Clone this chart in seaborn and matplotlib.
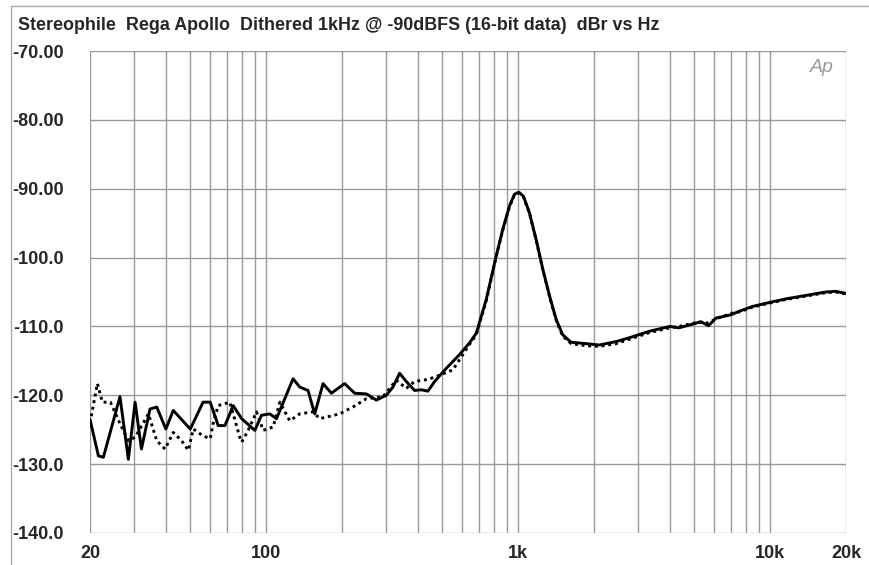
import matplotlib
matplotlib.use("Agg")
import matplotlib.pyplot as plt
import seaborn as sns
import pandas as pd
import numpy as np
from matplotlib.ticker import FixedLocator, NullFormatter

title = "Stereophile  Rega Apollo  Dithered 1kHz @ -90dBFS (16-bit data)  dBr vs Hz"

solid_f = [20, 21.6, 22.6, 26.3, 28.4, 30.2, 32.0, 34.6, 36.8, 40.0, 42.8, 50, 56.2, 60,
           64.5, 68.6, 74.0, 80, 90.2, 95.8, 103.4, 109.9, 127.9, 135.9, 146.6, 155.9,
           168.2, 181.5, 204.9, 224.5, 249.8, 273.7, 299.8, 318.6, 338.6, 359.8, 388.2,
           412.6, 438.5, 466, 518, 585, 641, 682, 747, 818, 869, 924, 967, 1006, 1050,
           1109, 1179, 1253, 1333, 1416, 1502, 1622, 1858, 2100, 2447, 2848, 3315, 4000,
           4355, 5000, 5309, 5696, 6089, 7000, 7535, 8505, 10000, 11536, 13850, 16620,
           18200, 20000]
solid_db = [-123.5, -128.8, -129.0, -120.2, -129.3, -121.0, -127.8, -122.0, -121.7, -124.9,
            -122.2, -124.9, -121.0, -121.0, -124.4, -124.4, -121.5, -123.4, -125.1, -122.9,
            -122.7, -123.4, -117.6, -118.8, -119.3, -122.7, -118.3, -119.7, -118.3, -119.7,
            -119.8, -120.7, -120.0, -118.8, -116.8, -118.0, -119.3, -119.2, -119.4, -118.0,
            -116.1, -114.1, -112.4, -111.0, -106.1, -99.8, -95.9, -92.5, -90.8, -90.5,
            -91.1, -93.5, -97.4, -101.7, -105.6, -109.0, -111.2, -112.3, -112.5, -112.7,
            -112.2, -111.5, -110.7, -110.0, -110.2, -109.6, -109.3, -109.9, -108.8, -108.3,
            -107.8, -107.1, -106.5, -106.0, -105.5, -105.0, -104.9, -105.2]

dotted_f = [20, 21.4, 22.4, 24.1, 26.3, 28.4, 30.2, 34.1, 36.8, 39.7, 42.8, 46.2, 49.1,
            51.4, 56.2, 60, 61.6, 64.5, 71.8, 78.6, 80, 84.8, 91.6, 97.3, 106.6, 113.3,
            124.1, 135.9, 153.5, 163.1, 195.7, 221.1, 249.8, 290.9, 328.5, 359.8, 388.2,
            438.5, 487.5, 551, 641, 682, 747, 818, 869, 924, 967, 1006, 1050, 1109, 1179,
            1253, 1333, 1416, 1502, 1622, 1858, 2100, 2447, 2848, 3315, 4000, 4355, 5000,
            5309, 5696, 6089, 7000, 7535, 8505, 10000, 11536, 13850, 16620, 18200, 20000]
dotted_db = [-124.0, -118.3, -121.0, -121.0, -124.1, -126.6, -126.1, -122.7, -126.6, -127.8,
             -125.4, -126.6, -128.0, -124.9, -125.9, -126.3, -124.1, -121.5, -121.0, -126.1,
             -126.8, -125.1, -122.4, -125.1, -124.6, -121.0, -123.7, -122.7, -122.4, -123.4,
             -122.7, -121.7, -120.5, -120.2, -117.8, -119.0, -118.0, -117.7, -117.1, -116.3,
             -112.6, -111.2, -106.3, -99.9, -96.0, -92.6, -90.9, -90.6, -91.2, -93.6, -97.5,
             -101.8, -105.7, -109.1, -111.4, -112.5, -112.8, -112.9, -112.5, -111.7, -110.9,
             -110.2, -110.0, -109.5, -109.4, -109.5, -108.9, -108.1, -107.9, -107.2, -106.6,
             -106.1, -105.6, -105.1, -105.0, -105.3]

y_ticks = [-70, -80, -90, -100, -110, -120, -130, -140]
y_labels = ["-70.00", "-80.00", "-90.00", "-100.0", "-110.0", "-120.0", "-130.0", "-140.0"]
x_ticks = [20, 100, 1000, 10000, 20000]
x_labels = ["20", "100", "1k", "10k", "20k"]
x_grid = [20, 30, 40, 50, 60, 70, 80, 90, 100, 200, 300, 400, 500, 600, 700, 800, 900,
          1000, 2000, 3000, 4000, 5000, 6000, 7000, 8000, 9000, 10000, 20000]

sns.set_style("white")
plt.rcParams['font.family'] = ['Liberation Sans', 'DejaVu Sans']

fig = plt.figure(figsize=(8.69, 5.65), dpi=100)
ax = fig.add_axes([90/869, 1 - 533/565, (846 - 90)/869, (533 - 51)/565])

df_s = pd.DataFrame({"f": solid_f, "db": solid_db})
df_d = pd.DataFrame({"f": dotted_f, "db": dotted_db})

ax.set_xscale("log")
ax.set_xlim(20, 20000)
ax.set_ylim(-140, -70)

grid_c = "#9a9a9a"
for xv in x_grid:
    ax.axvline(xv, color=grid_c, lw=1.0, zorder=1)
for yv in y_ticks:
    ax.axhline(yv, color=grid_c, lw=1.0, zorder=1)

sns.lineplot(data=df_d, x="f", y="db", ax=ax, color="black", lw=2.1, linestyle=(0, (1, 1.3)),
             estimator=None, sort=False, zorder=3)
sns.lineplot(data=df_s, x="f", y="db", ax=ax, color="black", lw=2.1,
             estimator=None, sort=False, zorder=4)

ax.set_xlabel("")
ax.set_ylabel("")
ax.xaxis.set_minor_locator(FixedLocator([]))
ax.xaxis.set_minor_formatter(NullFormatter())
ax.set_xticks(x_ticks)
ax.set_xticklabels(x_labels, fontsize=13, fontweight="bold")
ax.set_yticks(y_ticks)
ax.set_yticklabels(y_labels, fontsize=13, fontweight="bold")
ax.tick_params(axis="both", length=0)
ax.tick_params(axis="x", pad=9)
ax.tick_params(axis="y", pad=19)
for s in ax.spines.values():
    s.set_visible(False)

fig.text(18/869, 1 - 25/565, title, fontsize=12.9, fontweight="bold", ha="left", va="center")
fig.text(822/869, 1 - 67/565, "Ap", fontsize=14, style="italic", color="#9a9a9a",
         ha="center", va="center")

# outer frame (left and top edges)
fig.add_artist(plt.Line2D([11/869, 11/869], [0, 1 - 6/565], transform=fig.transFigure,
                          color="#aaaaaa", lw=1))
fig.add_artist(plt.Line2D([11/869, 1], [1 - 6/565, 1 - 6/565], transform=fig.transFigure,
                          color="#aaaaaa", lw=1))

fig.savefig("out.png", dpi=100)
